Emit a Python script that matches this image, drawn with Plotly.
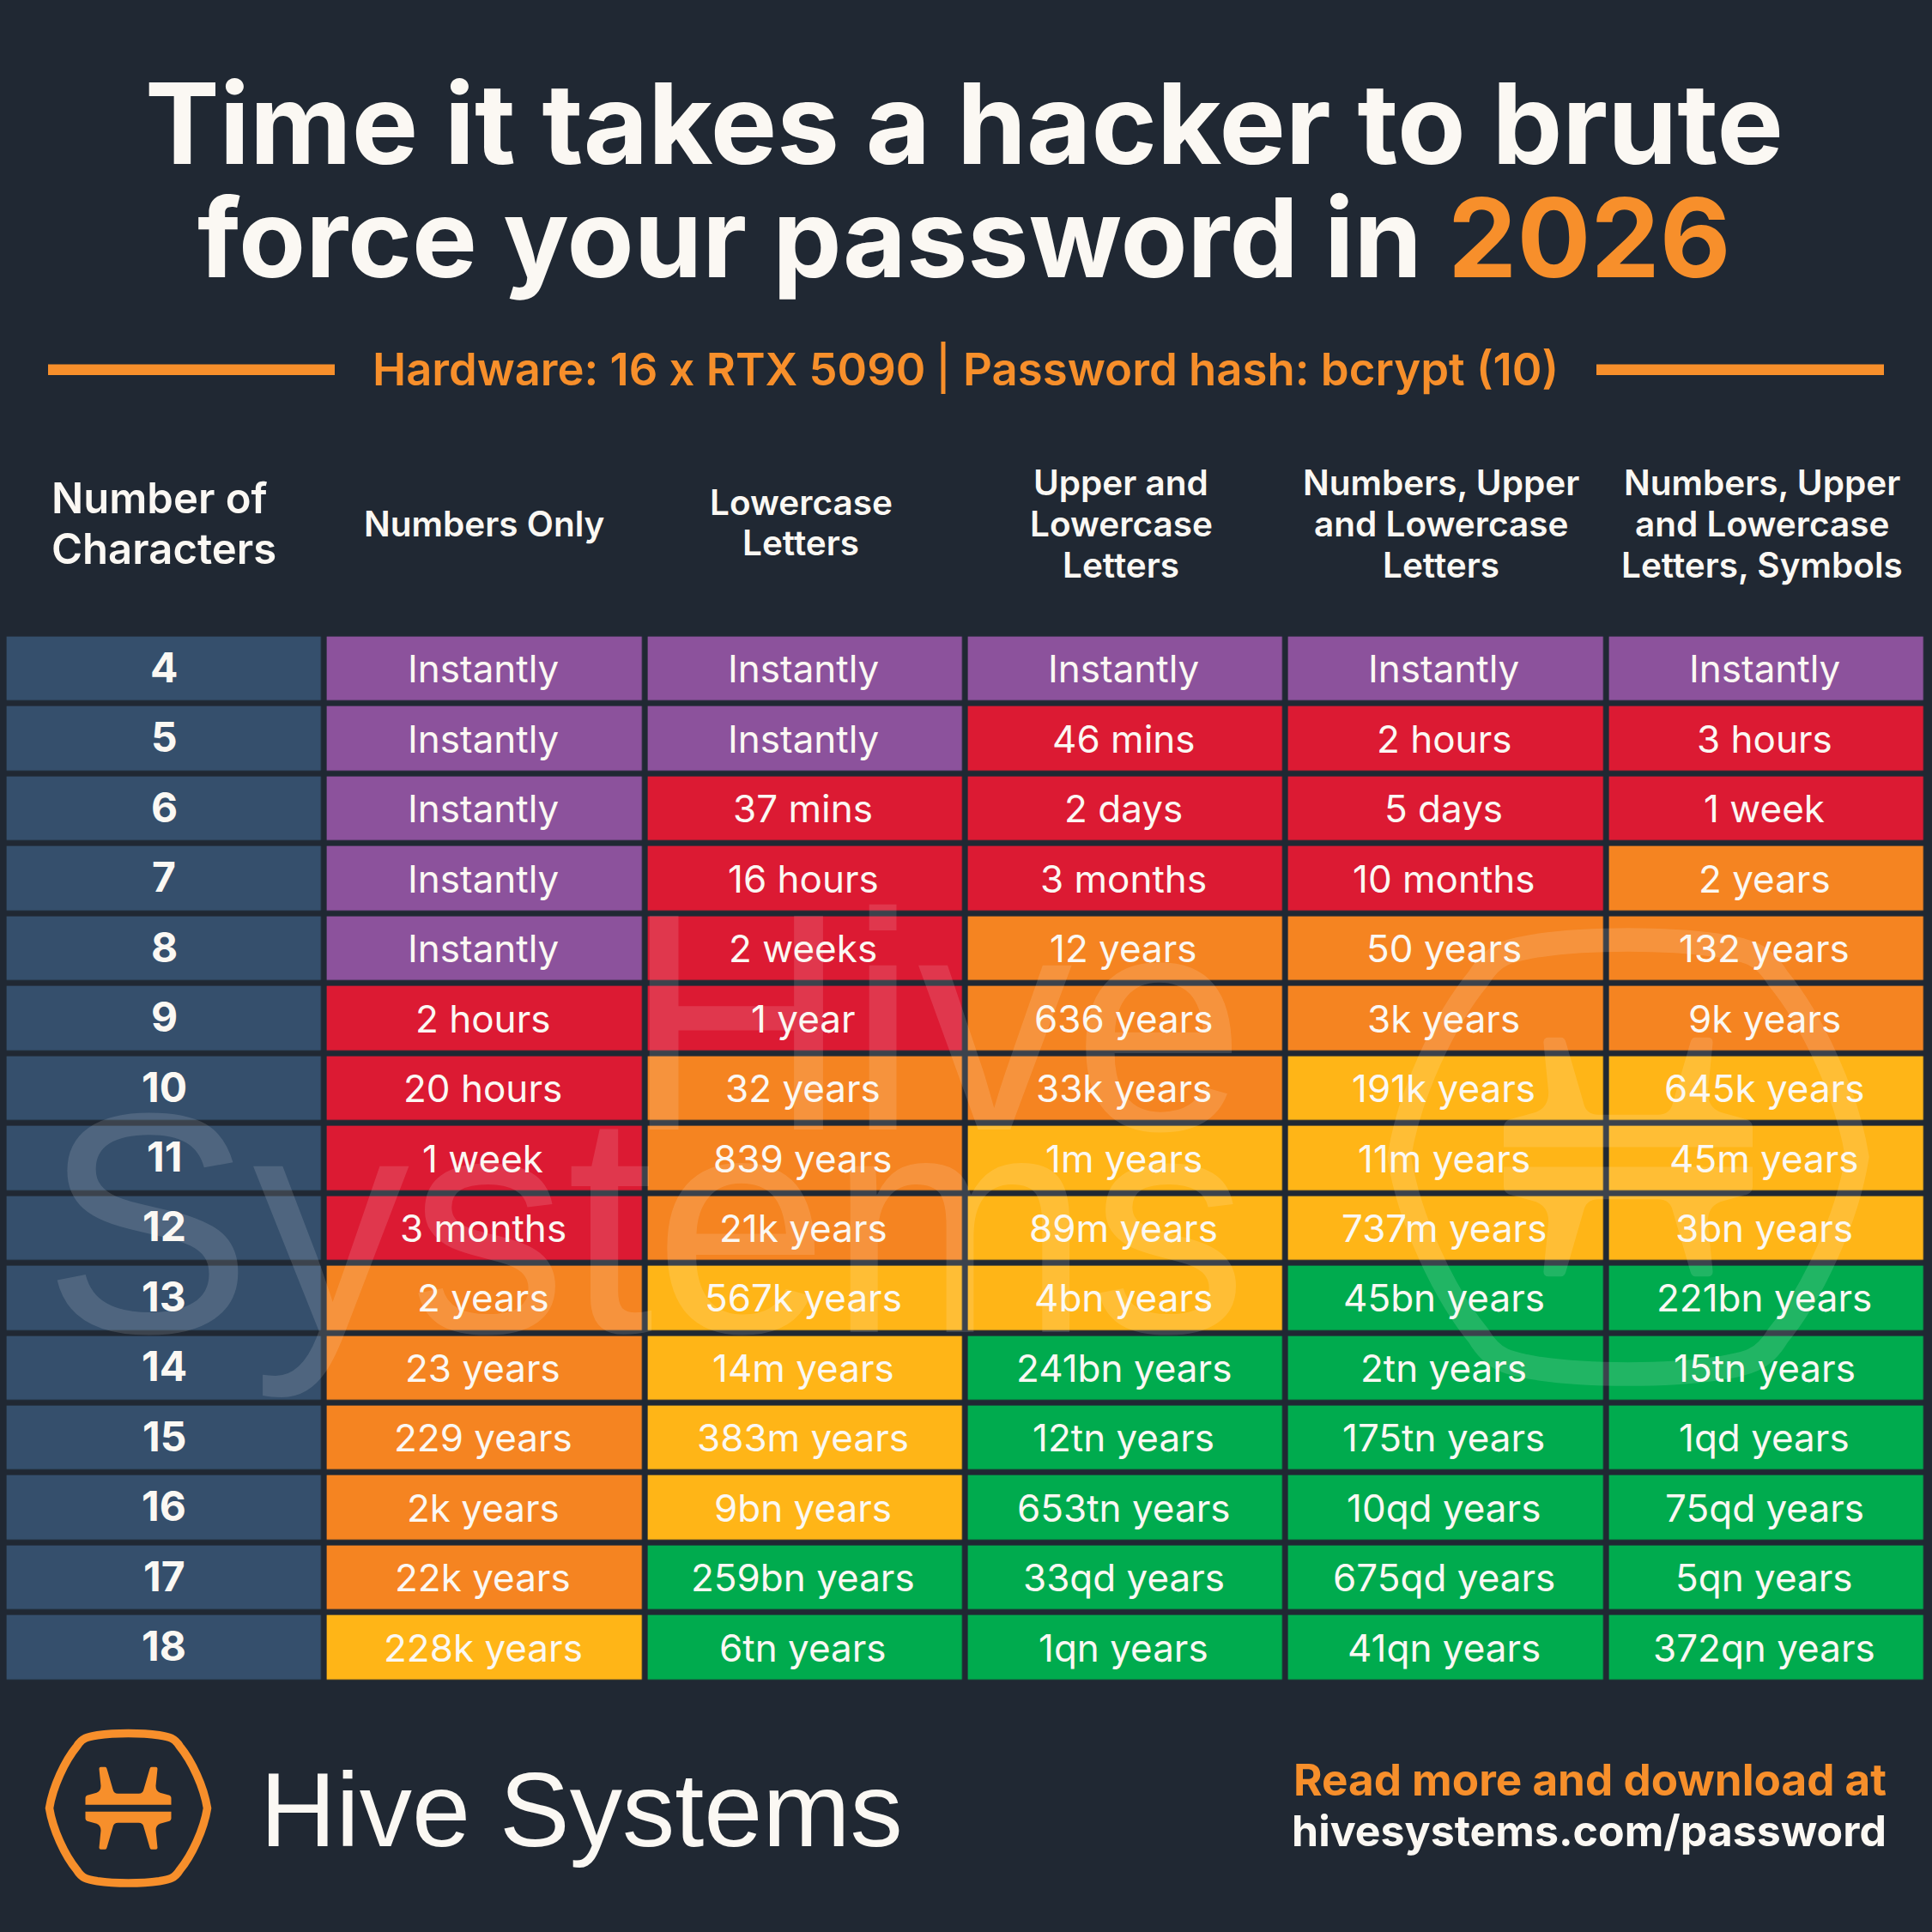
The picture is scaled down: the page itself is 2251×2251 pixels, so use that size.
# Time to brute force a password, Hive Systems table
import plotly.graph_objects as go

W = 2251
H = 2251

BG = "#202833"
WHITE = "#FBF8F3"
ORANGE = "#F78F2B"
WATERMARK = "rgba(255,255,255,0.13)"
FONT = "Inter"
LOGO_FONT = "Liberation Sans"

rows = ["4", "5", "6", "7", "8", "9", "10", "11", "12", "13", "14", "15", "16", "17", "18"]
columns = ["Number of Characters", "Numbers Only", "Lowercase Letters", "Upper and Lowercase Letters",
           "Numbers, Upper and Lowercase Letters", "Numbers, Upper and Lowercase Letters, Symbols"]

numbers_only = ["Instantly", "Instantly", "Instantly", "Instantly", "Instantly", "2 hours", "20 hours", "1 week",
                "3 months", "2 years", "23 years", "229 years", "2k years", "22k years", "228k years"]
lowercase = ["Instantly", "Instantly", "37 mins", "16 hours", "2 weeks", "1 year", "32 years", "839 years",
             "21k years", "567k years", "14m years", "383m years", "9bn years", "259bn years", "6tn years"]
upper_lower = ["Instantly", "46 mins", "2 days", "3 months", "12 years", "636 years", "33k years", "1m years",
               "89m years", "4bn years", "241bn years", "12tn years", "653tn years", "33qd years", "1qn years"]
num_upper_lower = ["Instantly", "2 hours", "5 days", "10 months", "50 years", "3k years", "191k years", "11m years",
                   "737m years", "45bn years", "2tn years", "175tn years", "10qd years", "675qd years", "41qn years"]
all_chars = ["Instantly", "3 hours", "1 week", "2 years", "132 years", "9k years", "645k years", "45m years",
             "3bn years", "221bn years", "15tn years", "1qd years", "75qd years", "5qn years", "372qn years"]

# 0 row label, 1 instantly, 2 red, 3 orange, 4 yellow, 5 green
level_labels = [0] * 15
level_numbers = [1, 1, 1, 1, 1, 2, 2, 2, 2, 3, 3, 3, 3, 3, 4]
level_lowercase = [1, 1, 2, 2, 2, 2, 3, 3, 3, 4, 4, 4, 4, 5, 5]
level_upper_lower = [1, 2, 2, 2, 3, 3, 3, 4, 4, 4, 5, 5, 5, 5, 5]
level_num_upper = [1, 2, 2, 2, 3, 3, 4, 4, 4, 5, 5, 5, 5, 5, 5]
level_all = [1, 2, 2, 3, 3, 3, 4, 4, 4, 5, 5, 5, 5, 5, 5]

level_colors = ["#354F6C", "#8C529C", "#DC1A33", "#F58421", "#FFB517", "#00AB4E"]

cell_columns = [numbers_only, lowercase, upper_lower, num_upper_lower, all_chars]
level_columns = [level_labels, level_numbers, level_lowercase, level_upper_lower, level_num_upper, level_all]

z = [[col[i] for col in level_columns] for i in range(len(rows))]
scale = []
for i, c in enumerate(level_colors):
    scale.append([i / 6, c])
    scale.append([(i + 1) / 6, c])


def px_x(v):
    return v / W


def px_y(v):
    return 1 - v / H


def logo_path(cx, cy, k):
    # hexagon outline
    def p(x, y):
        return f"{px_x(cx + x * k):.5f},{px_y(cy + y * k):.5f}"
    return (f"M{p(-92, 0)} C{p(-88, -25)} {p(-74, -55)} {p(-60, -72)} "
            f"C{p(-54, -82)} {p(-48, -83)} {p(-36, -85)} C{p(-15, -88)} {p(15, -88)} {p(36, -85)} "
            f"C{p(48, -83)} {p(54, -82)} {p(60, -72)} C{p(74, -55)} {p(88, -25)} {p(92, 0)} "
            f"C{p(88, 25)} {p(74, 55)} {p(60, 72)} C{p(54, 82)} {p(48, 83)} {p(36, 85)} "
            f"C{p(15, 88)} {p(-15, 88)} {p(-36, 85)} C{p(-48, 83)} {p(-54, 82)} {p(-60, 72)} "
            f"C{p(-74, 55)} {p(-88, 25)} {p(-92, 0)} Z")


def mark_path(cx, cy, k, sign):
    # one half of the H mark, sign flips it
    def p(x, y):
        return f"{px_x(cx + x * k):.5f},{px_y(cy + sign * y * k):.5f}"
    return (f"M{p(-50, -4)} L{p(50, -4)} L{p(50, -12)} Q{p(50, -14)} {p(48, -15)} L{p(37, -18)} "
            f"Q{p(32, -20)} {p(32, -26)} L{p(34, -46)} Q{p(34, -48)} {p(32, -48)} L{p(27, -48)} "
            f"Q{p(25.5, -48)} {p(25, -46)} L{p(18, -22)} Q{p(17, -17)} {p(12, -17)} L{p(-12, -17)} "
            f"Q{p(-17, -17)} {p(-18, -22)} L{p(-25, -46)} Q{p(-25.5, -48)} {p(-27, -48)} L{p(-32, -48)} "
            f"Q{p(-34, -48)} {p(-34, -46)} L{p(-32, -26)} Q{p(-32, -20)} {p(-37, -18)} L{p(-48, -15)} "
            f"Q{p(-50, -14)} {p(-50, -12)} Z")


def add_logo(fig, cx, cy, k, color):
    fig.add_shape(type="path", path=logo_path(cx, cy, k), xref="paper", yref="paper", layer="above",
                  line=dict(color=color, width=9.5 * k), fillcolor="rgba(0,0,0,0)")
    for sign in [1, -1]:
        fig.add_shape(type="path", path=mark_path(cx, cy, k, sign), xref="paper", yref="paper", layer="above",
                      line=dict(width=0), fillcolor=color)


def add_bar(fig, x0, x1, y0, y1):
    fig.add_shape(type="rect", x0=px_x(x0), x1=px_x(x1), y0=px_y(y0), y1=px_y(y1),
                  xref="paper", yref="paper", line=dict(width=0), fillcolor=ORANGE)


def add_text(fig, x, y, text, size, color=WHITE, weight=600, family=FONT, xanchor="center", align="center"):
    fig.add_annotation(x=px_x(x), y=px_y(y), xref="paper", yref="paper", text=text, showarrow=False,
                       xanchor=xanchor, yanchor="middle", align=align,
                       font=dict(family=family, size=size, color=color, weight=weight))


def add_lines(fig, x, ys, lines, size, xanchor="center"):
    for y, line in zip(ys, lines):
        add_text(fig, x, y, line, size, xanchor=xanchor)


fig = go.Figure()

fig.add_trace(go.Heatmap(
    x=columns, y=rows, z=z, zmin=0, zmax=6, colorscale=scale, showscale=False,
    xgap=6.8, ygap=6.8, hoverinfo="skip"
))

# headline
add_text(fig, 1123, 143, "Time it takes a hacker to brute", 130, weight=700)
add_text(fig, 1123, 277, f'force your password in <span style="color:{ORANGE}">2026</span>', 127.5, weight=700)

# sub heading
add_text(fig, 1080, 430, "Hardware: 16 x RTX 5090", 52.5, color=ORANGE, xanchor="right")
add_text(fig, 1120, 430, "Password hash: bcrypt (10)", 52.7, color=ORANGE, xanchor="left")
add_bar(fig, 56, 390, 424.5, 437)
add_bar(fig, 1860, 2195, 424.5, 437)
add_bar(fig, 1096.5, 1101.5, 398, 459)

# column headers
add_lines(fig, 58, [581, 640], ["Number of", "Characters"], 49, xanchor="left")
add_lines(fig, 564, [610], ["Numbers Only"], 40.5)
add_lines(fig, 933, [586, 633], ["Lowercase", "Letters"], 40.5)
add_lines(fig, 1306, [562, 610, 658], ["Upper and", "Lowercase", "Letters"], 40.5)
add_lines(fig, 1679, [562, 610, 658], ["Numbers, Upper", "and Lowercase", "Letters"], 40.5)
add_lines(fig, 2053, [562, 610, 658], ["Numbers, Upper", "and Lowercase", "Letters, Symbols"], 40.5)

# watermark
add_text(fig, 1089, 1190, "Hive", 362, color=WATERMARK, weight=400, family=LOGO_FONT)
add_text(fig, 751, 1426, "Systems", 366, color=WATERMARK, weight=400, family=LOGO_FONT)
add_logo(fig, 1897, 1348, 2.9, WATERMARK)

# row numbers and cell texts
for i, row in enumerate(rows):
    fig.add_annotation(x=0, y=i, text=row, showarrow=False, yshift=2,
                       font=dict(family=FONT, size=48, color=WHITE, weight=700))
    for j, col in enumerate(cell_columns):
        fig.add_annotation(x=j + 1, y=i, text=col[i], showarrow=False, xshift=-2, yshift=0,
                           font=dict(family=FONT, size=44, color=WHITE, weight=400))

# footer
add_logo(fig, 149.5, 2106.7, 1, ORANGE)
add_text(fig, 301, 2108, "Hive Systems", 122.5, weight=400, family=LOGO_FONT, xanchor="left")
add_text(fig, 2200, 2073, "Read more and download at", 51.2, color=ORANGE, weight=700, xanchor="right")
add_text(fig, 2200, 2133, "hivesystems.com/password", 50, weight=700, xanchor="right")

fig.update_layout(
    width=W, height=H, margin=dict(l=0, r=0, t=0, b=0),
    paper_bgcolor=BG, plot_bgcolor=BG, showlegend=False,
    xaxis=dict(domain=[px_x(4.6), px_x(2244.4)], visible=False, type="category",
               range=[-0.5, 5.5]),
    yaxis=dict(domain=[px_y(1960.4), px_y(738.6)], visible=False, type="category",
               range=[14.5, -0.5]),
)

fig.write_html("out.html", config=dict(displayModeBar=False), post_script="document.body.style.margin='0';")
